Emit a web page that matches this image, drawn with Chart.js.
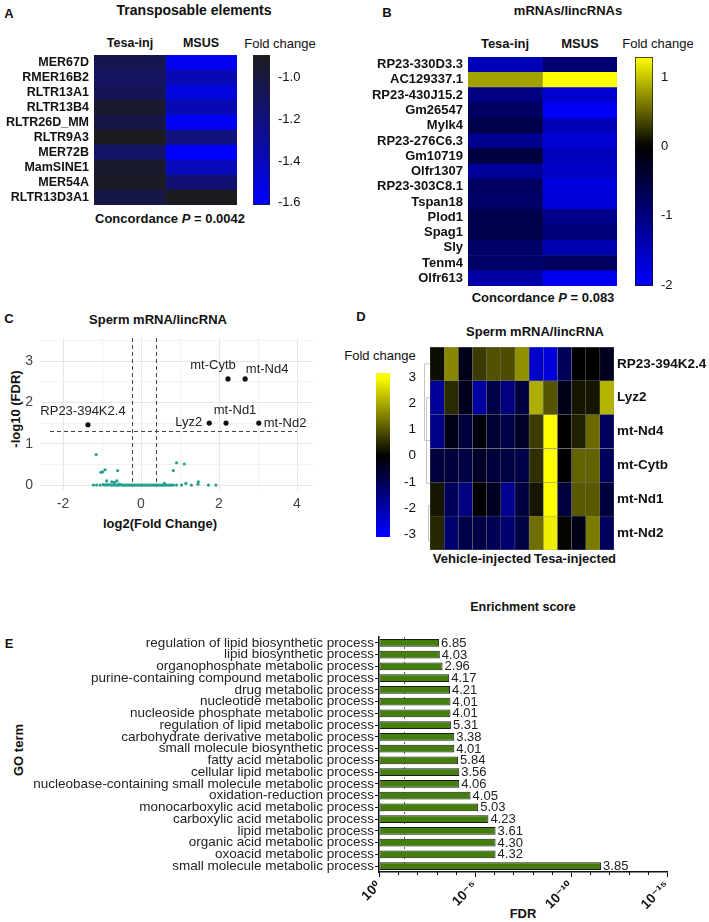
<!DOCTYPE html>
<html><head><meta charset="utf-8">
<script src="https://cdn.jsdelivr.net/npm/chart.js@4.4.1/dist/chart.umd.min.js"></script>
<style>
html,body{margin:0;padding:0;background:#fff;}
body{width:709px;height:922px;position:relative;overflow:hidden;font-family:"Liberation Sans",Arial,sans-serif;color:#111;}
.t{position:absolute;white-space:nowrap;line-height:1;}
canvas{position:absolute;}
</style></head><body>
<script>
// ================= DATA =================
// Panel A - transposable elements (fold change)
const teNames = ['MER67D','RMER16B2','RLTR13A1','RLTR13B4','RLTR26D_MM','RLTR9A3','MER72B','MamSINE1','MER54A','RLTR13D3A1'];
const teTesaInj = [-1.05,-1.10,-1.07,-0.95,-1.02,-0.90,-1.13,-0.95,-0.92,-1.02];
const teMSUS    = [-1.56,-1.37,-1.50,-1.37,-1.58,-1.20,-1.61,-1.40,-1.17,-0.90];
const teBarTicks = [-1.0,-1.2,-1.4,-1.6];
const teBarRange = [-1.61,-0.895];

// Panel B - mRNAs/lincRNAs (fold change)
const rnaNames = ['RP23-330D3.3','AC129337.1','RP23-430J15.2','Gm26547','Mylk4','RP23-276C6.3','Gm10719','Olfr1307','RP23-303C8.1','Tspan18','Plod1','Spag1','Sly','Tenm4','Olfr613'];
const rnaTesaInj = [-1.45,0.82,-1.00,-0.75,-0.58,-1.13,-0.50,-1.20,-0.75,-0.82,-0.58,-0.58,-0.82,-0.82,-1.32];
const rnaMSUS    = [-0.88,1.30,-1.63,-1.95,-1.45,-1.63,-1.50,-1.57,-1.75,-1.70,-1.07,-0.94,-1.38,-0.75,-1.88];
const rnaBarTicks = [1,0,-1,-2];
const rnaBarRange = [-2.01,1.29];

// Panel C - volcano
const sigGenes = ['RP23-394K2.4','Lyz2','mt-Nd1','mt-Nd2','mt-Cytb','mt-Nd4'];
const sigLog2FC = [-1.36,1.75,2.18,3.02,2.23,2.67];
const sigNegLog10FDR = [1.46,1.50,1.50,1.50,2.57,2.57];
const nsLog2FC = [-1.22,-1.14,-1.15,-1.05,-1.03,-0.98,-0.92,-0.88,-0.75,-0.68,-0.62,-0.60,-0.56,
  -0.97,-0.93,-0.89,-0.85,-0.81,-0.77,-0.73,-0.69,-0.65,-0.61,-0.57,-0.53,-0.49,-0.45,-0.41,-0.37,-0.33,-0.29,-0.25,-0.21,-0.17,-0.13,-0.09,-0.05,-0.01,
  0.03,0.07,0.11,0.15,0.19,0.23,0.27,0.31,0.35,0.39,0.43,0.47,0.51,0.55,0.59,0.63,0.67,0.71,0.75,0.79,0.83,
  0.60,0.83,0.91,0.91,1.04,1.11,1.15,1.29,1.47,1.46,1.73,1.92];
const nsNegLog10FDR = [0.00,0.00,0.74,0.00,0.31,0.32,0.37,0.10,0.08,0.065,0.10,0.35,0.02,
  0.01,0.00,0.01,0.00,0.01,0.00,0.00,0.01,0.00,0.00,0.00,0.01,0.00,0.00,0.00,0.00,0.00,0.00,0.00,0.00,0.00,0.00,0.00,0.00,0.00,
  0.00,0.00,0.00,0.00,0.00,0.00,0.00,0.00,0.00,0.00,0.00,0.00,0.00,0.00,0.00,0.00,0.00,0.00,0.00,0.00,0.00,
  0.04,0.35,0.54,0.00,0.00,0.51,0.04,0.00,0.08,0.02,0.00,0.00];
const fdrCut = 1.3;
const fcCutLow = -0.22;
const fcCutHigh = 0.38;
const volcanoXTicks = [-2,-1,0,1,2,3,4];
const volcanoYTicks = [0,0.5,1,1.5,2,2.5,3,3.5];

// Panel D - sperm mRNA/lincRNA heatmap (7 vehicle-injected, 6 tesa-injected)
const dGenes = ['RP23-394K2.4','Lyz2','mt-Nd4','mt-Cytb','mt-Nd1','mt-Nd2'];
const dRP23394K24 = [0.15,1.6,-0.3,0.7,0.95,0.9,1.7,-2.35,-2.6,-1.05,0.0,0.0,-0.35];
const dLyz2       = [-1.8,0.5,-0.35,-1.9,-0.85,-1.5,-0.75,2.05,1.0,-0.3,0.25,0.25,2.1];
const dMtNd4      = [-1.6,-0.3,-0.75,-0.15,-0.6,-0.85,-0.45,0.7,3.0,0.0,0.4,1.25,-1.1];
const dMtCytb     = [-0.7,-0.7,-0.8,-0.45,-0.7,-0.8,-0.85,0.55,3.0,0.0,1.15,1.15,-1.1];
const dMtNd1      = [0.25,-1.05,-1.5,0.0,-0.4,-1.7,-0.75,0.25,3.0,-0.7,1.05,1.05,-0.7];
const dMtNd2      = [0.45,-1.3,-0.85,-0.85,-1.0,-1.3,-0.8,1.3,2.8,0.05,-0.3,1.45,-1.1];
const dBarTicks = [3,2,1,0,-1,-2,-3];
const dBarRange = [-3.1,3.15];

// Panel E - GO enrichment
const goTerms = ['regulation of lipid biosynthetic process','lipid biosynthetic process','organophosphate metabolic process','purine-containing compound metabolic process','drug metabolic process','nucleotide metabolic process','nucleoside phosphate metabolic process','regulation of lipid metabolic process','carbohydrate derivative metabolic process','small molecule biosynthetic process','fatty acid metabolic process','cellular lipid metabolic process','nucleobase-containing small molecule metabolic process','oxidation-reduction process','monocarboxylic acid metabolic process','carboxylic acid metabolic process','lipid metabolic process','organic acid metabolic process','oxoacid metabolic process','small molecule metabolic process'];
const goFDR = [7.4e-4,6.8e-4,4.9e-4,2.2e-4,2.0e-4,1.9e-4,1.9e-4,1.8e-4,1.2e-4,1.2e-4,7.6e-5,6.6e-5,6.6e-5,1.7e-5,6.8e-6,2.0e-6,8.5e-7,8.5e-7,8.5e-7,2.7e-12];
const goEnrichment = [6.85,4.03,2.96,4.17,4.21,4.01,4.01,5.31,3.38,4.01,5.84,3.56,4.06,4.05,5.03,4.23,3.61,4.30,4.32,3.85];
const fdrTicks = [1,1e-5,1e-10,1e-15];
const fdrTickLabels = ['10\u2070','10\u207B\u2075','10\u207B\u00B9\u2070','10\u207B\u00B9\u2075'];
const fdrThreshold = 0.05;

// ================= HELPERS =================
Chart.defaults.font.family = '"Liberation Sans", Arial, "DejaVu Sans", sans-serif';
Chart.defaults.color = '#111';
Chart.defaults.animation = false;
Chart.defaults.plugins.legend.display = false;
Chart.defaults.plugins.tooltip.enabled = false;

function txt(html, cx, cy, size, bold, rot) {
  const d = document.createElement('div');
  d.className = 't';
  d.innerHTML = html;
  d.style.fontSize = size + 'px';
  d.style.fontWeight = bold ? 'bold' : 'normal';
  d.style.left = cx + 'px'; d.style.top = cy + 'px';
  d.style.transform = 'translate(-50%,-50%)' + (rot ? ' rotate(' + rot + 'deg)' : '');
  document.body.appendChild(d);
}
function cv(left, top, w, h) {
  const c = document.createElement('canvas');
  c.width = w; c.height = h;
  c.style.left = left + 'px'; c.style.top = top + 'px';
  c.style.width = w + 'px'; c.style.height = h + 'px';
  document.body.appendChild(c);
  return c;
}
function rgb(c) { return 'rgb(' + c.map(v => Math.round(v)).join(',') + ')'; }
function lerpColor(stops, v) {
  if (v <= stops[0][0]) return rgb(stops[0][1]);
  for (let i = 1; i < stops.length; i++) {
    if (v <= stops[i][0]) {
      const [v0, c0] = stops[i - 1], [v1, c1] = stops[i];
      const t = (v - v0) / (v1 - v0);
      return rgb(c0.map((c, k) => c + (c1[k] - c) * t));
    }
  }
  return rgb(stops[stops.length - 1][1]);
}
const cmapA = v => lerpColor([[-1.61, [0, 0, 255]], [-0.895, [28, 28, 30]]], v);
const cmapB = v => lerpColor([[-2, [0, 0, 255]], [0, [0, 0, 0]], [1.29, [255, 255, 0]]], v);
const cmapD = v => lerpColor([[-3, [0, 0, 255]], [0, [0, 0, 0]], [3, [255, 255, 0]]], v);

const PAD = 20; // vertical padding inside heatmap / colorbar canvases

function heatmap(canvas, rows, cols, cmap, o) {
  return new Chart(canvas, {
    type: 'bar',
    data: {
      labels: rows,
      datasets: cols.map((vals, j) => ({
        data: vals.map(() => [j, j + 1]),
        backgroundColor: vals.map(cmap),
        borderColor: o.borderColor || 'rgba(0,0,0,0)',
        borderWidth: o.borderWidth || 0,
        borderSkipped: false,
        grouped: false,
        barPercentage: 1,
        categoryPercentage: 1
      }))
    },
    options: {
      indexAxis: 'y', responsive: false, devicePixelRatio: 1,
      layout: { padding: { top: PAD, bottom: PAD, left: o.padLeft || 0, right: 0 } },
      scales: {
        x: { type: 'linear', display: false, min: 0, max: cols.length },
        y: {
          position: o.pos,
          grid: { display: false, drawTicks: false },
          border: { display: false },
          ticks: { autoSkip: false, padding: o.tpad, color: '#111', font: { weight: 'bold', size: o.fs } },
          afterFit: s => { s.width = o.axisW; }
        }
      }
    },
    plugins: o.plugins || []
  });
}

function colorbar(canvas, range, ticks, fmt, cmap, o) {
  const [mn, mx] = range;
  return new Chart(canvas, {
    type: 'bar',
    data: {
      labels: [''],
      datasets: [{
        data: [[mn, mx]],
        backgroundColor: c => {
          const ch = c.chart;
          if (!ch.chartArea) return '#000';
          const ys = ch.scales.y;
          const g = ch.ctx.createLinearGradient(0, ys.getPixelForValue(mn), 0, ys.getPixelForValue(mx));
          for (let i = 0; i <= 24; i++) { g.addColorStop(i / 24, cmap(mn + (mx - mn) * i / 24)); }
          return g;
        },
        borderColor: o.border || 'rgba(0,0,0,0)',
        borderWidth: o.border ? 1 : 0,
        borderSkipped: false,
        barPercentage: 1, categoryPercentage: 1
      }]
    },
    options: {
      responsive: false, devicePixelRatio: 1,
      layout: { padding: { top: PAD, bottom: PAD, left: 0, right: 0 } },
      scales: {
        x: { display: false },
        y: {
          position: 'right', min: mn, max: mx,
          afterBuildTicks: s => { s.ticks = ticks.map(v => ({ value: v })); },
          grid: { display: false, drawTicks: false },
          border: { display: false },
          ticks: { padding: o.tpad, crossAlign: o.cross || 'near', color: '#111', font: { size: o.fs }, callback: v => fmt(v) },
          afterFit: s => { s.width = o.axisW; }
        }
      }
    }
  });
}

// ================= TEXT =================
// Panel A
txt('A', 9, 13, 13, true);
txt('Transposable elements', 194, 10, 14, true);
txt('Tesa-inj', 130, 43, 12.5, true);
txt('MSUS', 201, 43, 12.5, true);
txt('Fold change', 280, 43, 13, false);
txt('Concordance <i>P</i> = 0.0042', 170, 218, 13, true);
// Panel B
txt('B', 387, 12, 13, true);
txt('mRNAs/lincRNAs', 568, 10, 13, true);
txt('Tesa-inj', 505, 43, 13, true);
txt('MSUS', 580, 43, 13, true);
txt('Fold change', 658, 43, 13, false);
txt('Concordance <i>P</i> = 0.083', 543, 297, 13, true);
// Panel C
txt('C', 9, 318, 13, true);
txt('Sperm mRNA/lincRNA', 158, 319, 13, true);
txt('-log10 (FDR)', 15, 409, 13, true, -90);
txt('log2(Fold Change)', 160, 523, 13, true);
// Panel D
txt('D', 361, 316, 13, true);
txt('Sperm mRNA/lincRNA', 535, 331, 13, true);
txt('Fold change', 380, 355, 13, false);
txt('Vehicle-injected', 482, 558, 13, true);
txt('Tesa-injected', 575, 558, 13, true);
// Panel E
txt('Enrichment score', 523, 607, 12.5, true);
txt('E', 9, 643, 13, true);
txt('GO term', 18, 750, 13, true, -90);
txt('FDR', 523, 913, 13, true);

// ================= PANEL A =================
heatmap(cv(0, 55 - PAD, 237, 150 + 2 * PAD), teNames, [teTesaInj, teMSUS], cmapA, { pos: 'left', axisW: 94, tpad: 5, fs: 12.5 });
colorbar(cv(253, 55 - PAD, 60, 150 + 2 * PAD), teBarRange, teBarTicks, v => v.toFixed(1), cmapA, { axisW: 43, tpad: 8, fs: 13, border: '#222' });

// ================= PANEL B =================
heatmap(cv(350, 57 - PAD, 267, 229 + 2 * PAD), rnaNames, [rnaTesaInj, rnaMSUS], cmapB, { pos: 'left', axisW: 118, tpad: 5, fs: 13 });
colorbar(cv(635, 57 - PAD, 74, 229 + 2 * PAD), rnaBarRange, rnaBarTicks, v => String(v), cmapB, { axisW: 56, tpad: 8, fs: 13, border: '#111' });

// ================= PANEL C =================
const sigLabelStyle = {
  'RP23-394K2.4': { dx: -5, dy: -13, align: 'center' },
  'Lyz2': { dx: -7, dy: -1, align: 'right' },
  'mt-Nd1': { dx: 9, dy: -13, align: 'center' },
  'mt-Nd2': { dx: 5, dy: 0, align: 'left' },
  'mt-Cytb': { dx: -15, dy: -13, align: 'center' },
  'mt-Nd4': { dx: 22, dy: -9, align: 'center' }
};
const volcanoPlugin = {
  id: 'volcanoExtras',
  beforeDatasetsDraw(chart) {
    const { ctx, chartArea: a, scales: { x, y } } = chart;
    ctx.save();
    ctx.strokeStyle = '#444'; ctx.lineWidth = 1; ctx.setLineDash([4, 3]);
    ctx.beginPath();
    const yy = Math.round(y.getPixelForValue(fdrCut)) + 0.5;
    ctx.moveTo(a.left + 10, yy); ctx.lineTo(a.right - 16, yy);
    [fcCutLow, fcCutHigh].forEach(v => {
      const xx = Math.round(x.getPixelForValue(v)) + 0.5;
      ctx.moveTo(xx, a.top); ctx.lineTo(xx, a.bottom - 3);
    });
    ctx.stroke();
    ctx.restore();
  },
  afterDatasetsDraw(chart) {
    const { ctx } = chart;
    const meta = chart.getDatasetMeta(1);
    ctx.save();
    ctx.font = '13px "Liberation Sans", Arial, sans-serif';
    ctx.fillStyle = '#222';
    ctx.textBaseline = 'middle';
    meta.data.forEach((pt, i) => {
      const st = sigLabelStyle[sigGenes[i]];
      ctx.textAlign = st.align;
      ctx.fillText(sigGenes[i], pt.x + st.dx, pt.y + st.dy);
    });
    ctx.restore();
  }
};
new Chart(cv(0, 318, 330, 197), {
  type: 'scatter',
  data: {
    datasets: [
      { data: nsLog2FC.map((v, i) => ({ x: v, y: nsNegLog10FDR[i] })), pointRadius: 1.6, backgroundColor: '#25a08e', borderWidth: 0 },
      { data: sigLog2FC.map((v, i) => ({ x: v, y: sigNegLog10FDR[i] })), pointRadius: 2.6, backgroundColor: '#111', borderWidth: 0 }
    ]
  },
  options: {
    responsive: false, devicePixelRatio: 1,
    layout: { padding: { top: 20, right: 17, left: 0, bottom: 0 } },
    scales: {
      x: {
        type: 'linear', min: -2.59, max: 4.41,
        afterBuildTicks: s => { s.ticks = volcanoXTicks.map(v => ({ value: v })); },
        grid: { drawTicks: false, color: c => (c.tick && c.tick.value % 2 === 0 ? '#e6e6e6' : '#f2f2f2'), lineWidth: 1 },
        border: { display: false },
        ticks: { padding: 6, color: '#444', font: { size: 14 }, callback: v => (v % 2 === 0 ? String(v) : '') },
        afterFit: s => { s.height = 25; }
      },
      y: {
        type: 'linear', min: -0.12, max: 3.56,
        afterBuildTicks: s => { s.ticks = volcanoYTicks.map(v => ({ value: v })); },
        grid: { drawTicks: false, color: c => (c.tick && Number.isInteger(c.tick.value) ? '#e6e6e6' : '#f2f2f2'), lineWidth: 1 },
        border: { display: false },
        ticks: { padding: 7, color: '#444', font: { size: 14 }, callback: v => (Number.isInteger(v) ? String(v) : '') },
        afterFit: s => { s.width = 40; }
      }
    }
  },
  plugins: [volcanoPlugin]
});

// ================= PANEL D =================
const dRows = [dRP23394K24, dLyz2, dMtNd4, dMtCytb, dMtNd1, dMtNd2];
const dCols = dRP23394K24.map((_, j) => dRows.map(r => r[j]));
const dendroPlugin = {
  id: 'dendro',
  afterDraw(chart) {
    const { ctx, chartArea: a, scales: { y } } = chart;
    const segs = [[0, 2.26, 6], [1.0, 3.53, 4], [4.19, 5.23, 2.5]];
    ctx.save();
    ctx.strokeStyle = '#c4c4c4'; ctx.lineWidth = 1;
    segs.forEach(([r0, r1, off]) => {
      const xl = Math.round(a.left - off) + 0.5;
      const y0 = y.getPixelForValue(r0), y1 = y.getPixelForValue(r1);
      ctx.beginPath();
      ctx.moveTo(a.left, y0); ctx.lineTo(xl, y0); ctx.lineTo(xl, y1); ctx.lineTo(a.left, y1);
      ctx.stroke();
    });
    ctx.restore();
  }
};
heatmap(cv(420, 347 - PAD, 289, 203 + 2 * PAD), dGenes, dCols, cmapD, {
  pos: 'right', axisW: 95, tpad: 3, fs: 13.5, padLeft: 10,
  borderColor: 'rgba(110,110,110,0.8)', borderWidth: 0.5, plugins: [dendroPlugin]
});
colorbar(cv(376, 373 - PAD, 40, 164 + 2 * PAD), dBarRange, dBarTicks, v => String(v), cmapD, { axisW: 26, tpad: 6, fs: 13.5, cross: 'far' });

// ================= PANEL E =================
const goPlugin = {
  id: 'goExtras',
  beforeDatasetsDraw(chart) {
    const { ctx, chartArea: a, scales: { x } } = chart;
    const xx = Math.round(x.getPixelForValue(fdrThreshold)) + 0.5;
    ctx.save();
    ctx.strokeStyle = '#666'; ctx.lineWidth = 1; ctx.setLineDash([2, 3]);
    ctx.beginPath(); ctx.moveTo(xx, a.top); ctx.lineTo(xx, a.bottom); ctx.stroke();
    ctx.restore();
  },
  afterDatasetsDraw(chart) {
    const { ctx } = chart;
    const meta = chart.getDatasetMeta(0);
    ctx.save();
    ctx.font = '13px "Liberation Sans", Arial, sans-serif';
    ctx.fillStyle = '#222'; ctx.textAlign = 'left'; ctx.textBaseline = 'middle';
    meta.data.forEach((bar, i) => { ctx.fillText(goEnrichment[i].toFixed(2), bar.x + 2, bar.y + 0.5); });
    ctx.restore();
  },
  afterDraw(chart) {
    const { ctx, chartArea: a, scales: { x } } = chart;
    ctx.save();
    ctx.strokeStyle = '#111'; ctx.lineWidth = 1;
    ctx.beginPath();
    for (let k = 1; k < 15; k++) {
      if (k % 5 === 0) continue;
      const xx = Math.round(x.getPixelForValue(Math.pow(10, -k))) + 0.5;
      ctx.moveTo(xx, a.bottom); ctx.lineTo(xx, a.bottom + 3);
    }
    ctx.stroke();
    ctx.restore();
  }
};
new Chart(cv(0, 625, 709, 297), {
  type: 'bar',
  data: {
    labels: goTerms,
    datasets: [{
      data: goFDR, base: 1,
      backgroundColor: '#447f0e', borderColor: '#1a1a1a', borderWidth: 1, borderSkipped: false,
      barPercentage: 0.66, categoryPercentage: 1
    }]
  },
  options: {
    indexAxis: 'y', responsive: false, devicePixelRatio: 1,
    layout: { padding: { top: 12, right: 42, left: 0, bottom: 0 } },
    scales: {
      x: {
        type: 'logarithmic', reverse: true, min: 1e-15, max: 1,
        afterBuildTicks: s => { s.ticks = fdrTicks.map(v => ({ value: v })); },
        grid: { drawOnChartArea: false, drawTicks: true, tickLength: 5, color: '#111', lineWidth: 1 },
        border: { display: true, color: '#111', width: 1.5 },
        ticks: { minRotation: 45, maxRotation: 45, padding: 1, color: '#111', font: { size: 13.5, weight: 'bold' }, callback: (v, i) => fdrTickLabels[i] },
        afterFit: s => { s.height = 50; }
      },
      y: {
        grid: { drawOnChartArea: false, drawTicks: true, tickLength: 4, offset: false, color: '#111' },
        border: { display: true, color: '#111', width: 1.5 },
        ticks: { autoSkip: false, padding: 1, color: '#222', font: { size: 13.5 } },
        afterFit: s => { s.width = 379; }
      }
    }
  },
  plugins: [goPlugin]
});
</script>
</body></html>
